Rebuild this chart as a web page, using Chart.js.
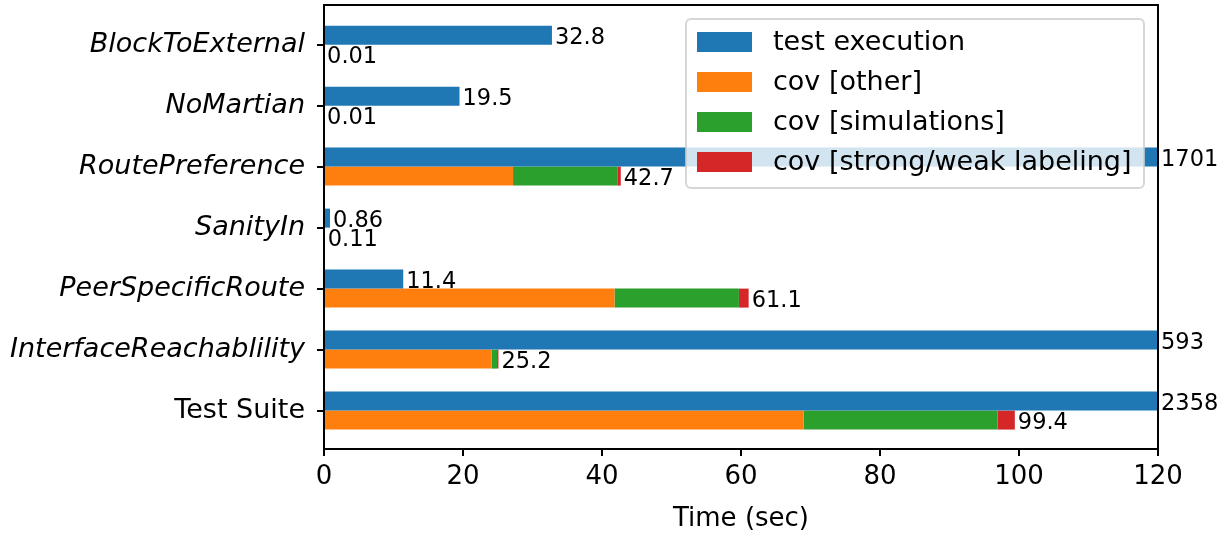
<!DOCTYPE html>
<html>
<head>
<meta charset="utf-8">
<script src="https://cdn.jsdelivr.net/npm/chart.js@4.4.1/dist/chart.umd.min.js"></script>
<style>
html,body{margin:0;padding:0;background:#fff;}
canvas{display:block;}
</style>
</head>
<body>
<canvas id="c" width="1228" height="536"></canvas>
<script>
// ---- data ----
const categories = ["BlockToExternal", "NoMartian", "RoutePreference", "SanityIn", "PeerSpecificRoute", "InterfaceReachablility", "Test Suite"];
const testExecution = [32.8, 19.5, 1701, 0.86, 11.4, 593, 2358];
const covOther = [0.01, 0.01, 27.2, 0.08, 41.8, 24.1, 69.0];
const covSimulations = [0, 0, 15.0, 0.02, 17.9, 0.8, 27.9];
const covLabeling = [0, 0, 0.5, 0.01, 1.4, 0.2, 2.5];
const execLabels = ["32.8", "19.5", "1701", "0.86", "11.4", "593", "2358"];
const covLabels = ["0.01", "0.01", "42.7", "0.11", "61.1", "25.2", "99.4"];
const seriesNames = ["test execution", "cov [other]", "cov [simulations]", "cov [strong/weak labeling]"];
const xTicks = [0, 20, 40, 60, 80, 100, 120];

const colors = ["#1f77b4", "#ff7f0e", "#2ca02c", "#d62728"];
const FONT = "DejaVu Sans";

function pts(arr) { return arr.map((v, i) => ({x: v, y: i})); }

const datasets = [
  {label: seriesNames[0], data: pts(testExecution), backgroundColor: colors[0], stack: "exec"},
  {label: seriesNames[1], data: pts(covOther), backgroundColor: colors[1], stack: "cov"},
  {label: seriesNames[2], data: pts(covSimulations), backgroundColor: colors[2], stack: "cov"},
  {label: seriesNames[3], data: pts(covLabeling), backgroundColor: colors[3], stack: "cov"}
];

const framePlugin = {
  id: "frameAndLabels",
  afterDatasetsDraw(chart) {
    const ctx = chart.ctx, a = chart.chartArea;
    ctx.save();
    ctx.font = "22.5px '" + FONT + "'";
    ctx.fillStyle = "#000";
    ctx.textBaseline = "middle";
    ctx.textAlign = "left";
    const m0 = chart.getDatasetMeta(0), m3 = chart.getDatasetMeta(3);
    for (let i = 0; i < categories.length; i++) {
      const e0 = m0.data[i];
      ctx.fillText(execLabels[i], Math.min(e0.x, a.right) + 3, e0.y + 3);
      const e3 = m3.data[i];
      ctx.fillText(covLabels[i], Math.min(e3.x, a.right) + 3, e3.y + 3);
    }
    ctx.restore();
  },
  afterDraw(chart) {
    const ctx = chart.ctx, a = chart.chartArea;
    ctx.save();
    // legend
    const lx = 686, ly = 19, lw = 458, lh = 169, r = 5;
    ctx.beginPath();
    ctx.moveTo(lx + r, ly);
    ctx.arcTo(lx + lw, ly, lx + lw, ly + lh, r);
    ctx.arcTo(lx + lw, ly + lh, lx, ly + lh, r);
    ctx.arcTo(lx, ly + lh, lx, ly, r);
    ctx.arcTo(lx, ly, lx + lw, ly, r);
    ctx.closePath();
    ctx.fillStyle = "rgba(255,255,255,0.8)";
    ctx.fill();
    ctx.strokeStyle = "rgba(204,204,204,0.8)";
    ctx.lineWidth = 2;
    ctx.stroke();
    ctx.font = "27px '" + FONT + "'";
    ctx.textBaseline = "middle";
    ctx.textAlign = "left";
    chart.data.datasets.forEach((ds, i) => {
      const cy = 42 + i * 40;
      ctx.fillStyle = ds.backgroundColor;
      ctx.fillRect(697, cy - 10, 55, 20);
      ctx.fillStyle = "#000";
      ctx.fillText(ds.label, 773, cy + 1);
    });
    // frame
    ctx.strokeStyle = "#000";
    ctx.lineWidth = 2;
    ctx.strokeRect(a.left, a.top, a.right - a.left, a.bottom - a.top);
    ctx.restore();
  }
};

new Chart(document.getElementById("c"), {
  type: "bar",
  data: {datasets},
  options: {
    indexAxis: "y",
    responsive: false,
    animation: false,
    devicePixelRatio: 1,
    categoryPercentage: 0.623,
    barPercentage: 1,
    layout: {autoPadding: false, padding: {top: 5, right: 70, bottom: 0, left: 0}},
    plugins: {legend: {display: false}, tooltip: {enabled: false}},
    scales: {
      x: {
        type: "linear",
        stacked: true,
        offset: false,
        min: 0, max: 120,
        afterBuildTicks(s) { s.ticks = xTicks.map(v => ({value: v})); },
        afterFit(s) { s.height = 87; s.paddingLeft = 0; s.paddingRight = 0; },
        grid: {drawOnChartArea: false, offset: false, tickLength: 7, color: "#000", lineWidth: 2},
        border: {display: true, color: "#000", width: 2},
        ticks: {color: "#000", font: {family: FONT, size: 26}, padding: 6, maxRotation: 0},
        title: {display: true, text: "Time (sec)", color: "#000", font: {family: FONT, size: 26}, padding: {top: 0, bottom: 1}}
      },
      y: {
        type: "linear",
        reverse: true,
        offset: false,
        min: -0.65, max: 6.63,
        afterBuildTicks(s) { s.ticks = categories.map((c, i) => ({value: i})); },
        afterFit(s) { s.width = 324; s.paddingTop = 0; s.paddingBottom = 0; },
        grid: {drawOnChartArea: false, offset: false, tickLength: 7, color: "#000", lineWidth: 2},
        border: {display: true, color: "#000", width: 2},
        ticks: {
          color: "#000",
          padding: 12,
          autoSkip: false,
          callback: (v) => categories[v] !== undefined ? categories[v] : "",
          font: (c) => ({family: FONT, size: 27, style: (c.tick && c.tick.value === categories.length - 1) ? "normal" : "italic"})
        }
      }
    }
  },
  plugins: [framePlugin]
});
</script>
</body>
</html>
